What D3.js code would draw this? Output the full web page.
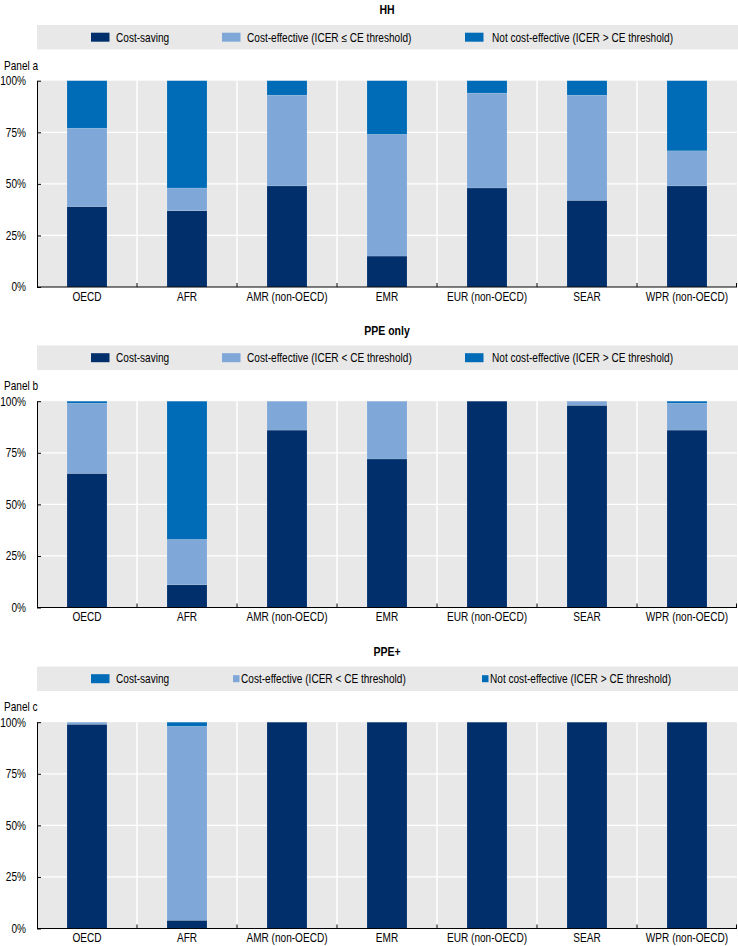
<!DOCTYPE html>
<html>
<head>
<meta charset="utf-8">
<script src="https://cdn.jsdelivr.net/npm/d3@7"></script>
<style>
  html, body { margin: 0; padding: 0; background: #fff; }
  svg { display: block; }
  text { font-family: "Liberation Sans Narrow", "Arial Narrow", "Liberation Sans", Arial, sans-serif; fill: #000; }
</style>
</head>
<body>
<svg id="chart" width="738" height="946"></svg>
<script>
// ---------- data ----------
const categories = ["OECD", "AFR", "AMR (non-OECD)", "EMR", "EUR (non-OECD)", "SEAR", "WPR (non-OECD)"];
const panelTitles = ["HH", "PPE only", "PPE+"];
const panelLabels = ["Panel a", "Panel b", "Panel c"];
const seriesKeys = ["saving", "effective", "notEffective"];

const hhSaving       = [39, 37, 49, 15, 48, 42, 49];
const hhEffective    = [38, 11, 44, 59, 46, 51, 17];
const hhNotEffective = [23, 52,  7, 26,  6,  7, 34];

const ppeSaving       = [65, 11, 86, 72, 100, 98, 86];
const ppeEffective    = [34, 22, 14, 28,   0,  2, 13];
const ppeNotEffective = [ 1, 67,  0,  0,   0,  0,  1];

const ppePlusSaving       = [99,  4, 100, 100, 100, 100, 100];
const ppePlusEffective    = [ 1, 94,   0,   0,   0,   0,   0];
const ppePlusNotEffective = [ 0,  2,   0,   0,   0,   0,   0];

const legendHH      = ["Cost-saving", "Cost-effective (ICER \u2264 CE threshold)", "Not cost-effective (ICER > CE threshold)"];
const legendPPE     = ["Cost-saving", "Cost-effective (ICER < CE threshold)", "Not cost-effective (ICER > CE threshold)"];
const legendPPEPlus = ["Cost-saving", "Cost-effective (ICER < CE threshold)", "Not cost-effective (ICER > CE threshold)"];

const yTicks = [0, 25, 50, 75, 100];

// ---------- style ----------
const colors = { saving: "#002F6C", effective: "#7FA8D8", notEffective: "#006BB6" };
const bgGray = "#E8E8E8";
const narrow = 0.84;

const panels = [
  { saving: hhSaving, effective: hhEffective, notEffective: hhNotEffective, legend: legendHH, small: false },
  { saving: ppeSaving, effective: ppeEffective, notEffective: ppeNotEffective, legend: legendPPE, small: false },
  { saving: ppePlusSaving, effective: ppePlusEffective, notEffective: ppePlusNotEffective, legend: legendPPEPlus, small: true }
];

const svg = d3.select("#chart");
const plotLeft = 37, plotRight = 737;
const panelOffsets = [0, 320.5, 641.5];

const x = d3.scaleBand().domain(categories).range([plotLeft, plotRight]).paddingInner(0.6).paddingOuter(0.3);

panels.forEach((p, i) => {
  const top = panelOffsets[i];
  const g = svg.append("g");
  const plotTop = top + 80.7, plotBottom = top + 287;
  const y = d3.scaleLinear().domain([0, 100]).range([plotBottom, plotTop]);

  // title
  g.append("text").attr("x", 387).attr("y", top + 14).attr("text-anchor", "middle")
    .style("font-weight", "bold").style("font-size", "12.5px").text(panelTitles[i]);

  // legend
  g.append("rect").attr("x", 37).attr("y", top + 25).attr("width", 701).attr("height", 24.5).attr("fill", bgGray);
  const legY = top + 37.2;
  const swX = [91, 222, 465];
  const txtX = [116, 247, 492];
  seriesKeys.forEach((k, j) => {
    if (p.small && j > 0) {
      const sx = j === 1 ? 233 : 482;
      const tx = j === 1 ? 241 : 490;
      g.append("rect").attr("x", sx).attr("y", legY - 3.5).attr("width", 6.5).attr("height", 7)
        .attr("fill", colors[k]);
      g.append("text").attr("x", tx).attr("y", legY + 4.3).style("font-size", "12px").text(p.legend[j]);
    } else {
      const col = p.small ? colors.notEffective : colors[k];
      g.append("rect").attr("x", swX[j]).attr("y", legY - 4.5).attr("width", 18.5).attr("height", 9).attr("fill", col);
      g.append("text").attr("x", txtX[j]).attr("y", legY + 4.3).style("font-size", "12px").text(p.legend[j]);
    }
  });

  // panel label
  g.append("text").attr("x", 4).attr("y", top + 69.5).style("font-size", "12px").text(panelLabels[i]);

  // plot background
  g.append("rect").attr("x", plotLeft).attr("y", plotTop).attr("width", plotRight - plotLeft)
    .attr("height", plotBottom - plotTop).attr("fill", bgGray);

  // horizontal gridlines
  g.selectAll(".hgrid").data(yTicks.filter(t => t > 0 && t < 100)).enter().append("line")
    .attr("x1", plotLeft).attr("x2", plotRight)
    .attr("y1", d => y(d)).attr("y2", d => y(d))
    .attr("stroke", "#fff").attr("stroke-width", 1.3);

  // vertical separators between categories
  const seps = categories.slice(1).map(c => x(c) - x.bandwidth() * 0.75);
  g.selectAll(".vgrid").data(seps).enter().append("line")
    .attr("x1", d => d).attr("x2", d => d).attr("y1", plotTop).attr("y2", plotBottom)
    .attr("stroke", "#fff").attr("stroke-width", 1.5);

  // stacked bars
  const rows = categories.map((c, ci) => ({ cat: c, saving: p.saving[ci], effective: p.effective[ci], notEffective: p.notEffective[ci] }));
  const stacked = d3.stack().keys(seriesKeys)(rows);
  stacked.forEach(layer => {
    g.selectAll(null).data(layer.filter(d => d[1] - d[0] > 0)).enter().append("rect")
      .attr("x", d => x(d.data.cat))
      .attr("width", x.bandwidth())
      .attr("y", d => y(d[1]))
      .attr("height", d => y(d[0]) - y(d[1]))
      .attr("fill", colors[layer.key])
      .attr("stroke", "rgba(255,255,255,0.25)").attr("stroke-width", 0.5);
  });

  // y axis
  const yAxis = d3.axisLeft(y).tickValues(yTicks).tickFormat(d => d + "%").tickSize(0).tickPadding(11);
  const ya = g.append("g").attr("transform", `translate(${plotLeft},0)`).call(yAxis);
  ya.select(".domain").attr("stroke", "#000").attr("stroke-width", 1);
  ya.selectAll("text").style("font-size", "12px").attr("fill", "#000");
  ya.selectAll(".tick").append("line").attr("x1", 0).attr("x2", 4).attr("stroke", "#000");

  // x axis
  const xAxis = d3.axisBottom(x).tickSize(0).tickPadding(5);
  const xa = g.append("g").attr("transform", `translate(0,${plotBottom})`).call(xAxis);
  xa.select(".domain").attr("stroke", "#000").attr("stroke-width", 1).attr("d", `M${plotLeft},0H${plotRight}`);
  xa.selectAll("text").style("font-size", "12px").attr("fill", "#000");
  g.selectAll(".xtick").data(seps.concat([plotRight - 0.5])).enter().append("line")
    .attr("x1", d => d).attr("x2", d => d).attr("y1", plotBottom).attr("y2", plotBottom - 4)
    .attr("stroke", "#000");
});

// condense text horizontally to mimic a narrow typeface
svg.selectAll("text").each(function () {
  const tx = +(this.getAttribute("x") || 0);
  const ty = +(this.getAttribute("y") || 0);
  this.setAttribute("x", 0);
  this.setAttribute("y", 0);
  this.setAttribute("transform", `translate(${tx},${ty}) scale(${narrow},1)`);
});
</script>
</body>
</html>
